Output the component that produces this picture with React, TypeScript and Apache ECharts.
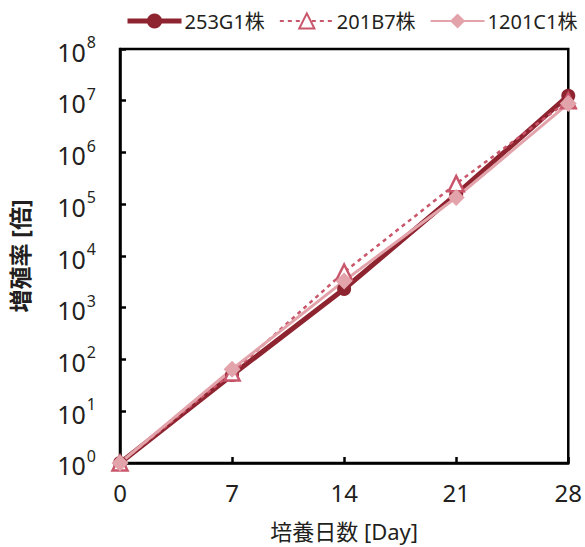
import React, { useEffect, useRef } from "react";
import * as echarts from "echarts";

const days = [0, 7, 14, 21, 28];
const seriesNames = ["253G1株", "201B7株", "1201C1株"];
const s253G1 = [1, 50, 2300, 1.55e5, 1.25e7];
const s201B7 = [1, 55, 4900, 2.5e5, 1.0e7];
const s1201C1 = [1, 65, 3300, 1.35e5, 8.8e6];
const xTicks = [0, 7, 14, 21, 28];

const FONT = "'Noto Sans', 'Noto Sans CJK JP', sans-serif";
const TXT = "#231f20";

export default function App() {
  const ref = useRef<HTMLDivElement>(null);
  useEffect(() => {
    if (!ref.current) return;
    const chart = echarts.init(ref.current, undefined, { renderer: "svg" });
    const pair = (arr: number[]) => days.map((d, i) => [d, arr[i]]);
    chart.setOption({
      animation: false,
      textStyle: { fontFamily: FONT, color: TXT },
      legend: {
        top: 6,
        left: 120,
        itemWidth: 54,
        itemHeight: 19,
        itemGap: 14,
        textStyle: { fontSize: 20, color: TXT, fontFamily: FONT, padding: [0, 0, 0, -2] },
        data: [
          { name: seriesNames[0], lineStyle: { width: 5 } },
          { name: seriesNames[1] },
          { name: seriesNames[2] },
        ],
      },
      grid: {
        left: 120,
        top: 49,
        right: 15,
        bottom: 82,
        show: true,
        borderColor: "#000",
        borderWidth: 2.5,
        backgroundColor: "transparent",
      },
      xAxis: {
        type: "value",
        min: 0,
        max: 28,
        interval: 7,
        name: "培養日数 [Day]",
        nameLocation: "middle",
        nameGap: 57,
        nameTextStyle: { fontSize: 22, color: TXT, fontFamily: FONT },
        axisLine: { lineStyle: { color: "#000", width: 2.5 } },
        axisTick: { inside: true, length: 6, lineStyle: { color: "#000", width: 2.5 } },
        axisLabel: {
          fontSize: 24,
          color: TXT,
          margin: 18,
          fontFamily: FONT,
          formatter: (v: number) => (xTicks.includes(v) ? String(v) : ""),
        },
        splitLine: { show: false },
      },
      yAxis: {
        type: "log",
        logBase: 10,
        min: 1,
        max: 1e8,
        name: "増殖率 [倍]",
        nameLocation: "middle",
        nameGap: 89,
        nameTextStyle: { fontSize: 23, color: TXT, fontFamily: FONT, fontWeight: "bold" },
        axisLine: { lineStyle: { color: "#000", width: 2.5 } },
        axisTick: { inside: true, length: 6, lineStyle: { color: "#000", width: 2.5 } },
        axisLabel: {
          margin: 24,
          fontFamily: FONT,
          formatter: (v: number) => {
            const e = Math.round(Math.log10(v));
            return `{b|10}{s|${e}}`;
          },
          rich: {
            b: { fontSize: 25, color: TXT, fontFamily: FONT, verticalAlign: "bottom", lineHeight: 30 },
            s: { fontSize: 16, color: TXT, fontFamily: FONT, verticalAlign: "top", padding: [0, 0, 14, 1] },
          },
        },
        splitLine: { show: false },
      },
      series: [
        {
          name: seriesNames[0],
          type: "line",
          data: pair(s253G1),
          symbol: "circle",
          symbolSize: 14,
          lineStyle: { color: "#8e2430", width: 5 },
          itemStyle: { color: "#8e2430" },
        },
        {
          name: seriesNames[1],
          type: "line",
          data: pair(s201B7),
          symbol: "triangle",
          symbolSize: 15,
          lineStyle: { color: "#c9566b", width: 2.5, type: [4, 4] },
          itemStyle: { color: "#fff", borderColor: "#c9566b", borderWidth: 2.5 },
        },
        {
          name: seriesNames[2],
          type: "line",
          data: pair(s1201C1),
          symbol: "diamond",
          symbolSize: 17,
          lineStyle: { color: "#e3a3aa", width: 3 },
          itemStyle: { color: "#e3a3aa" },
        },
      ],
    });
    return () => chart.dispose();
  }, []);
  return <div ref={ref} style={{ width: 585, height: 547, position: "absolute", left: 0, top: 0 }} />;
}
